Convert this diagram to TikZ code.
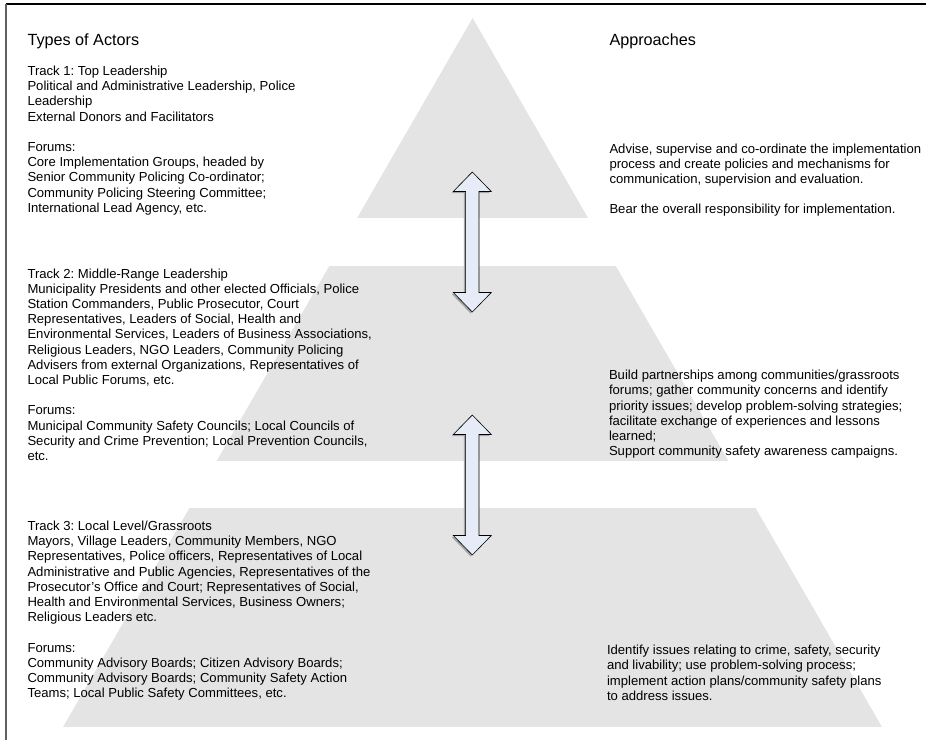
\documentclass[tikz,border=0pt]{standalone}
\usepackage{fontspec}
\setmainfont{Liberation Sans}
\frenchspacing
\definecolor{pyrgray}{HTML}{E4E4E4}
\definecolor{arrowfill}{HTML}{E6ECF7}
\definecolor{framegray}{HTML}{606060}
\newcommand{\txtblock}[1]{\parbox[t]{420pt}{\raggedright\frenchspacing\fontsize{13.1}{15.2}\selectfont #1}}
\newcommand{\headblock}[1]{\fontsize{16.2}{18}\selectfont #1}
\tikzset{
  txt/.style={anchor=base west, inner sep=0pt, outer sep=0pt},
  pyr/.style={fill=pyrgray},
  dblarrow/.pic={
    \path[pic actions] (0,-70) -- (19,-50.5) -- (6.7,-50.5) -- (6.7,50.5) -- (19,50.5)
      -- (0,70) -- (-19,50.5) -- (-6.7,50.5) -- (-6.7,-50.5) -- (-19,-50.5) -- cycle;
  },
  arrowshadow/.style={fill=gray!70, draw=none},
  arrowmain/.style={fill=arrowfill, draw=black, line width=0.6pt, line join=miter}
}
\begin{document}
\begin{tikzpicture}[x=1pt, y=-1pt]
\useasboundingbox (0,0) rectangle (926,740);
% frame
\draw[black, line width=1.3pt] (6,4) -- (926,4);
\draw[framegray, line width=1.7pt] (6,4) -- (6,740);
% pyramid bands
\begin{scope}
  \clip (63,727) -- (472.6,18) -- (882,727) -- cycle;
  \fill[pyr] (0,0) rectangle (926,218);
  \fill[pyr] (0,266) rectangle (926,461);
  \fill[pyr] (0,508) rectangle (926,727);
\end{scope}
% arrows
\pic[arrowshadow] at (470.6,243.5) {dblarrow};
\pic[arrowmain] (arrA) at (472.3,242) {dblarrow};
\pic[arrowshadow] at (470.6,486.5) {dblarrow};
\pic[arrowmain] (arrB) at (472.3,485) {dblarrow};
% headings
\node[txt] (hActors) at (27.5,45.5) {\headblock{Types of Actors}};
\node[txt] (hAppr) at (609.5,45.5) {\headblock{Approaches}};
% left blocks
\node[txt] (t1) at (27.5,75.4) {\txtblock{Track 1: Top Leadership\\
Political and Administrative Leadership, Police\\
Leadership\\
External Donors and Facilitators\\[15.2pt]
Forums:\\
Core Implementation Groups, headed by\\
Senior Community Policing Co-ordinator;\\
Community Policing Steering Committee;\\
International Lead Agency, etc.}};
\node[txt] (t2) at (27.5,278) {\txtblock{Track 2: Middle-Range Leadership\\
Municipality Presidents and other elected Officials, Police\\
Station Commanders, Public Prosecutor, Court\\
Representatives, Leaders of Social, Health and\\
Environmental Services, Leaders of Business Associations,\\
Religious Leaders, NGO Leaders, Community Policing\\
Advisers from external Organizations, Representatives of\\
Local Public Forums, etc.\\[15.2pt]
Forums:\\
Municipal Community Safety Councils; Local Councils of\\
Security and Crime Prevention; Local Prevention Councils,\\
etc.}};
\node[txt] (t3) at (27.5,530.4) {\txtblock{Track 3: Local Level/Grassroots\\
Mayors, Village Leaders, Community Members, NGO\\
Representatives, Police officers, Representatives of Local\\
Administrative and Public Agencies, Representatives of the\\
Prosecutor’s Office and Court; Representatives of Social,\\
Health and Environmental Services, Business Owners;\\
Religious Leaders etc.\\[15.2pt]
Forums:\\
Community Advisory Boards; Citizen Advisory Boards;\\
Community Advisory Boards; Community Safety Action\\
Teams; Local Public Safety Committees, etc.}};
% right blocks
\node[txt] (a1) at (609.5,153) {\txtblock{Advise, supervise and co-ordinate the implementation\\
process and create policies and mechanisms for\\
communication, supervision and evaluation.\\[15.2pt]
Bear the overall responsibility for implementation.}};
\node[txt] (a2) at (609,379.7) {\txtblock{Build partnerships among communities/grassroots\\
forums; gather community concerns and identify\\
priority issues; develop problem-solving strategies;\\
facilitate exchange of experiences and lessons\\
learned;\\
Support community safety awareness campaigns.}};
\node[txt] (a3) at (607,654.7) {\txtblock{Identify issues relating to crime, safety, security\\
and livability; use problem-solving process;\\
implement action plans/community safety plans\\
to address issues.}};
\end{tikzpicture}
\end{document}
